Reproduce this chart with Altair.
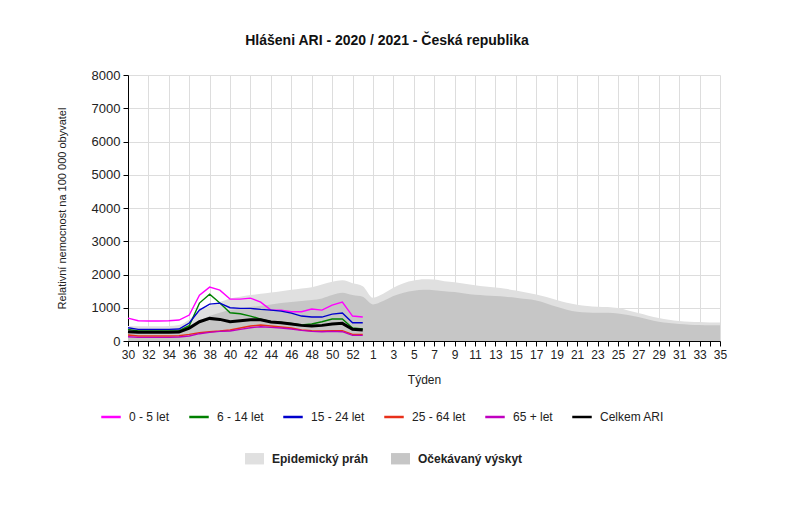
import altair as alt
import pandas as pd

weeks = [str(w) for w in list(range(30, 54)) + list(range(1, 36))]

threshold = [450, 440, 440, 440, 450, 480, 650, 900, 1050, 1170, 1280, 1330, 1380, 1420,
             1460, 1500, 1540, 1580, 1620, 1700, 1780, 1830, 1740, 1650,
             1300, 1420, 1600, 1740, 1820, 1860, 1850, 1800, 1770, 1720, 1680, 1640,
             1610, 1570, 1520, 1460, 1400, 1320, 1230, 1150, 1090, 1050, 1030, 1020,
             990, 920, 840, 760, 690, 640, 600, 580, 570, 560, 560]
expected = [300, 290, 290, 290, 300, 320, 420, 600, 750, 850, 930, 980, 1020, 1060,
            1100, 1140, 1170, 1200, 1230, 1280, 1380, 1450, 1380, 1330,
            1100, 1200, 1350, 1450, 1510, 1540, 1530, 1500, 1470, 1430, 1390, 1370,
            1350, 1330, 1300, 1260, 1220, 1130, 1030, 940, 880, 860, 850, 850,
            830, 780, 720, 650, 580, 540, 510, 490, 480, 470, 470]

age_0_5 = [690, 610, 600, 600, 610, 630, 780, 1380, 1620, 1530, 1260, 1260, 1290, 1170,
           930, 930, 880, 880, 960, 930, 1080, 1170, 750, 720]
age_6_14 = [350, 300, 300, 300, 300, 310, 460, 1140, 1410, 1140, 850, 820, 750, 660,
            580, 560, 530, 480, 510, 580, 660, 660, 390, 360]
age_15_24 = [400, 350, 350, 350, 350, 360, 540, 930, 1110, 1140, 1000, 980, 980, 950,
             930, 900, 840, 750, 720, 720, 810, 840, 550, 550]
age_25_64 = [180, 150, 150, 150, 150, 160, 200, 250, 280, 300, 330, 390, 450, 480,
             450, 420, 390, 330, 310, 300, 310, 310, 200, 200]
age_65 = [130, 110, 110, 110, 110, 120, 150, 220, 260, 290, 300, 350, 400, 430,
          410, 390, 360, 320, 290, 280, 290, 280, 170, 170]
total = [280, 260, 260, 260, 260, 270, 390, 580, 680, 650, 580, 610, 640, 640,
         570, 550, 510, 470, 450, 470, 510, 530, 350, 330]

line_names = ["0 - 5 let", "6 - 14 let", "15 - 24 let", "25 - 64 let", "65 + let", "Celkem ARI"]
line_colors = ["#FF00FF", "#008000", "#0000CC", "#E8301A", "#C000C0", "#000000"]
area_names = ["Epidemický práh", "Očekávaný výskyt"]
area_colors = ["#E0E0E0", "#C6C6C6"]

FONT = "Liberation Sans"

rows = []
for name, vals in zip(line_names, [age_0_5, age_6_14, age_15_24, age_25_64, age_65, total]):
    for i, v in enumerate(vals):
        rows.append({"idx": i, "series": name, "value": v})
lines_df = pd.DataFrame(rows)

arows = []
for name, vals in zip(area_names, [threshold, expected]):
    for i, v in enumerate(vals):
        arows.append({"idx": i, "area": name, "value": v})
area_df = pd.DataFrame(arows)

label_expr = "[" + ",".join("'%s'" % w for w in weeks) + "][datum.value]"
label_expr = "datum.value % 2 == 0 ? " + label_expr + " : ''"

x_enc = alt.X(
    "idx:Q",
    scale=alt.Scale(domain=[0, len(weeks) - 1], nice=False, zero=False),
    axis=alt.Axis(
        title="Týden", values=list(range(len(weeks))), labelExpr=label_expr,
        labelFontSize=12, labelColor="#222", labelFont=FONT, labelPadding=3,
        labelOverlap=False, labelFlush=False,
        tickColor="#000", tickSize=5, domainColor="#000",
        titleFont=FONT, titleFontSize=12, titleFontWeight="normal", titleColor="#222",
        titlePadding=14,
        gridColor="#DDDDDD",
        gridOpacity={"condition": {"test": "datum.value % 2 == 0", "value": 1}, "value": 0},
    ),
)
y_scale = alt.Scale(domain=[0, 8000], nice=False)
y_axis = alt.Axis(
    title="Relativní nemocnost na 100 000 obyvatel", values=list(range(0, 8001, 1000)),
    format="d",
    labelFontSize=13, labelColor="#222", labelFont=FONT, labelPadding=3,
    tickColor="#000", tickSize=5, domainColor="#000", gridColor="#DDDDDD",
    titleFont=FONT, titleFontSize=11, titleFontWeight="normal", titleColor="#222",
    titlePadding=24,
)

area_scale = alt.Scale(domain=area_names, range=area_colors)
area_legend = alt.Legend(
    title=None, orient="none", legendX=117, legendY=374, direction="horizontal",
    symbolType="M-1,-0.6H1V0.6H-1Z", symbolSize=360, symbolStrokeWidth=0,
    labelFont=FONT, labelFontSize=12, labelFontWeight="bold", labelColor="#222",
    labelOffset=8, columnPadding=22,
)

base_area = alt.Chart(area_df)
area_thr = base_area.transform_filter(alt.datum.area == area_names[0]).mark_area(
    interpolate="monotone", opacity=1).encode(
    x=x_enc, y=alt.Y("value:Q", scale=y_scale, axis=y_axis, stack=None),
    fill=alt.Fill("area:N", scale=area_scale, legend=area_legend),
)
area_exp = base_area.transform_filter(alt.datum.area == area_names[1]).mark_area(
    interpolate="monotone", opacity=1).encode(
    x=x_enc, y=alt.Y("value:Q", scale=y_scale, axis=y_axis, stack=None),
    fill=alt.Fill("area:N", scale=area_scale, legend=area_legend),
)

line_scale = alt.Scale(domain=line_names, range=line_colors)
line_legend = alt.Legend(
    title=None, orient="none", legendX=-28, legendY=331, direction="horizontal",
    symbolType="stroke", symbolSize=380, symbolStrokeWidth=2.5,
    labelFont=FONT, labelFontSize=12, labelColor="#222",
    labelOffset=7, columnPadding=14,
)

base_line = alt.Chart(lines_df)
thin = base_line.transform_filter(alt.datum.series != "Celkem ARI").mark_line(strokeWidth=1.4).encode(
    x=x_enc, y=alt.Y("value:Q", scale=y_scale, axis=y_axis),
    color=alt.Color("series:N", scale=line_scale, legend=line_legend),
    detail="series:N",
)
thick = base_line.transform_filter(alt.datum.series == "Celkem ARI").mark_line(strokeWidth=3).encode(
    x=x_enc, y=alt.Y("value:Q", scale=y_scale, axis=y_axis),
    color=alt.Color("series:N", scale=line_scale, legend=line_legend),
)

chart = alt.layer(area_thr, area_exp, thin, thick).resolve_scale(
    color="shared", fill="shared"
).properties(
    width=592, height=266,
    title=alt.Title("Hlášeni ARI  - 2020 / 2021 - Česká republika", font=FONT, fontSize=14,
                    fontWeight="bold", color="#111", anchor="middle", dx=-37, offset=21),
    autosize=alt.AutoSizeParams(type="none"),
    padding={"left": 128, "top": 75, "right": 71, "bottom": 172},
    background="white",
).configure_view(stroke=None)

chart.save("out.html", embed_options={"renderer": "svg", "actions": False})
